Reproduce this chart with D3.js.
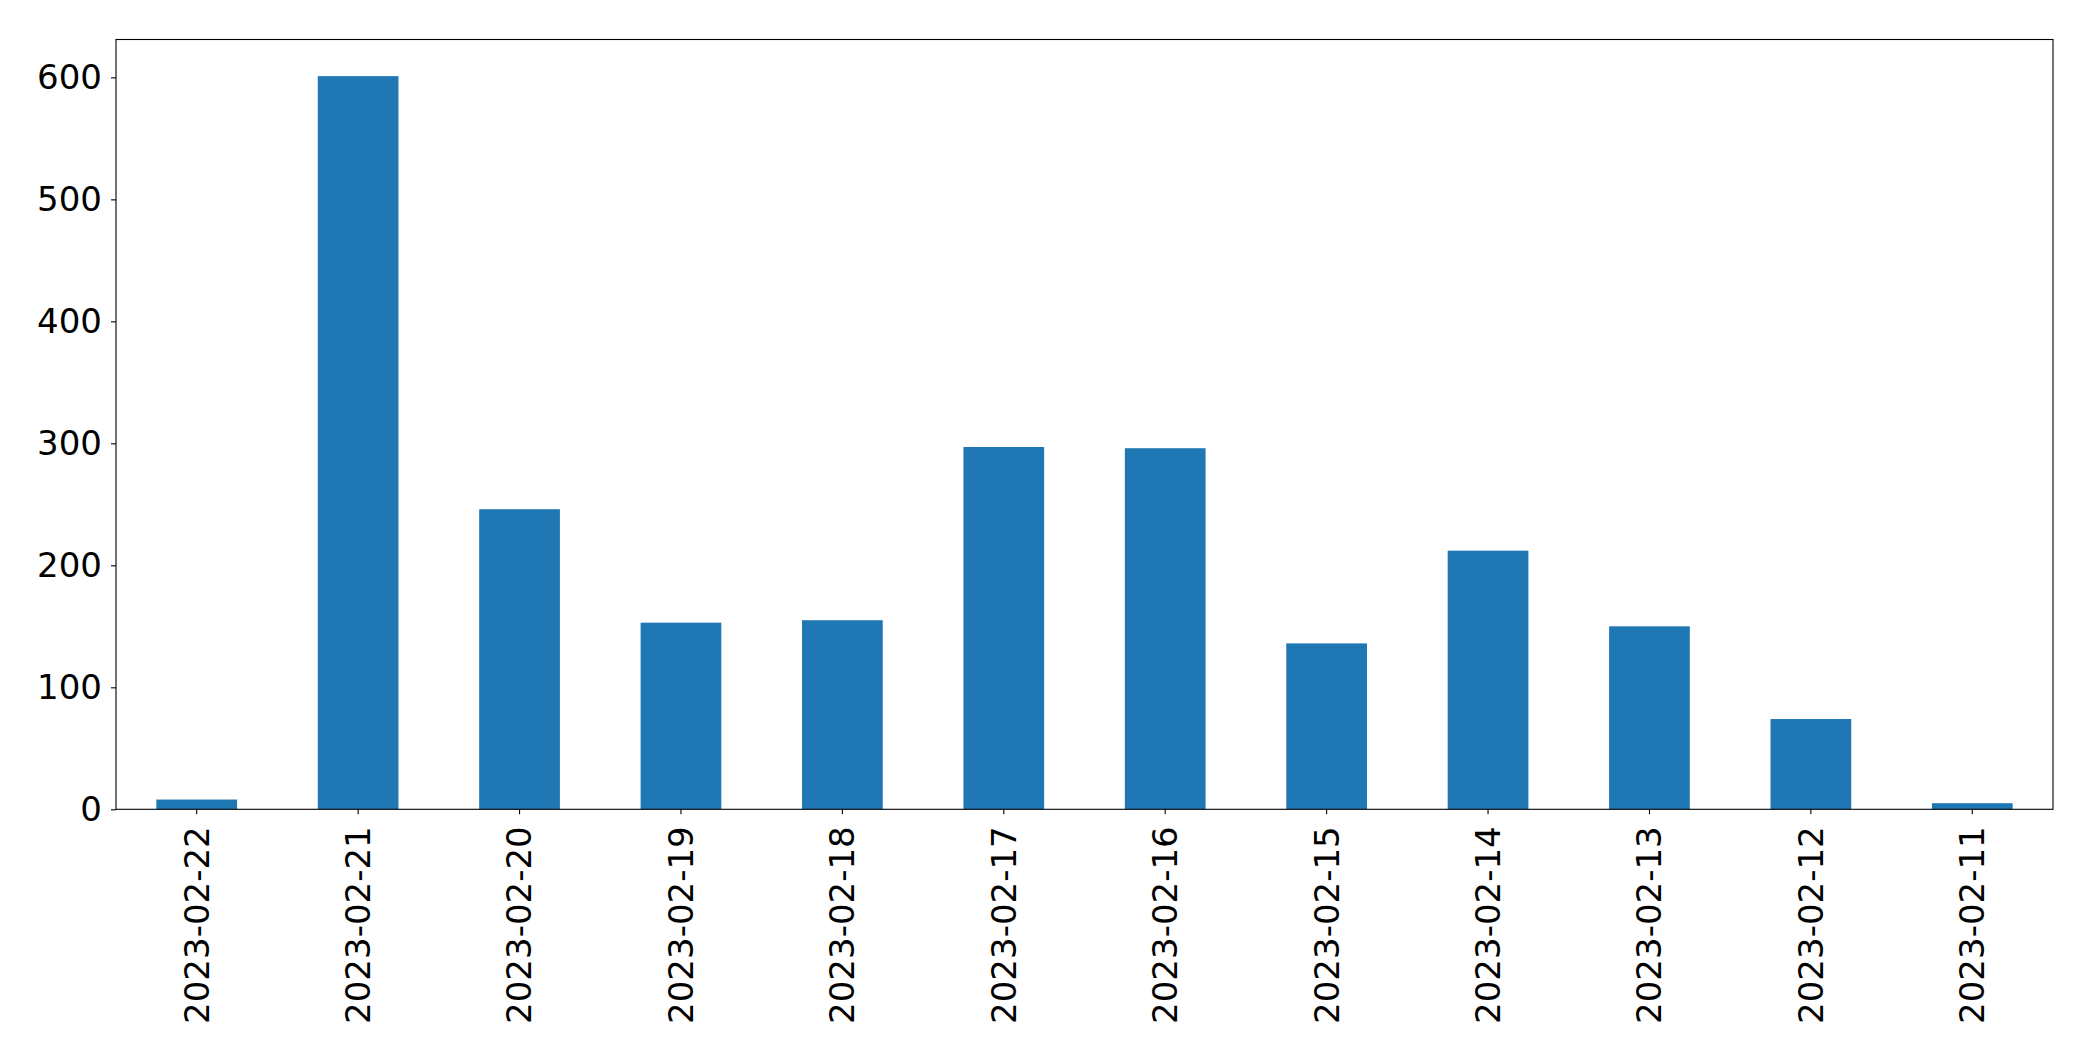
<!DOCTYPE html>
<html><head><meta charset="utf-8">
<script src="https://cdn.jsdelivr.net/npm/d3@7"></script>
<style>body{margin:0;background:#fff}svg{display:block}</style>
</head><body>
<script>
const categories = ["2023-02-22","2023-02-21","2023-02-20","2023-02-19","2023-02-18","2023-02-17","2023-02-16","2023-02-15","2023-02-14","2023-02-13","2023-02-12","2023-02-11"];
const values = [8, 601, 246, 153, 155, 297, 296, 136, 212, 150, 74, 5];
const yTicks = [0, 100, 200, 300, 400, 500, 600];

const W = 2093, H = 1061;
const m = {left: 116, right: 2053, top: 39.5, bottom: 809.3};
const svg = d3.select("body").append("svg").attr("width", W).attr("height", H);

const x = d3.scaleBand().domain(categories).range([m.left, m.right]).paddingInner(0.5).paddingOuter(0.25);
const y = d3.scaleLinear().domain([0, d3.max(values) * 1.05]).range([m.bottom, m.top]);

svg.append("g").selectAll("rect").data(values).join("rect")
  .attr("x", (d, i) => x(categories[i]))
  .attr("width", x.bandwidth())
  .attr("y", d => y(d))
  .attr("height", d => y(0) - y(d))
  .attr("fill", "#1f77b4");

const font = "'DejaVu Sans', sans-serif";
const fs = 34;

const ya = svg.append("g").attr("transform", `translate(${m.left},0)`)
  .call(d3.axisLeft(y).tickValues(yTicks).tickSize(5).tickPadding(9).tickFormat(d3.format("d")));
ya.select(".domain").remove();
ya.selectAll("text").attr("font-family", font).attr("font-size", fs).attr("fill", "#000");
ya.selectAll("line").attr("stroke", "#000").attr("stroke-width", 1.1);

const xa = svg.append("g").attr("transform", `translate(0,${m.bottom})`)
  .call(d3.axisBottom(x).tickSize(5).tickPadding(12));
xa.select(".domain").remove();
xa.selectAll("line").attr("stroke", "#000").attr("stroke-width", 1.1);
xa.selectAll("text")
  .attr("font-family", font).attr("font-size", fs).attr("fill", "#000")
  .attr("transform", "rotate(-90)")
  .attr("text-anchor", "end")
  .attr("x", -17).attr("y", 0).attr("dy", "0.35em");

svg.append("rect").attr("x", m.left).attr("y", m.top)
  .attr("width", m.right - m.left).attr("height", m.bottom - m.top)
  .attr("fill", "none").attr("stroke", "#000").attr("stroke-width", 1.1);
</script>
</body></html>
